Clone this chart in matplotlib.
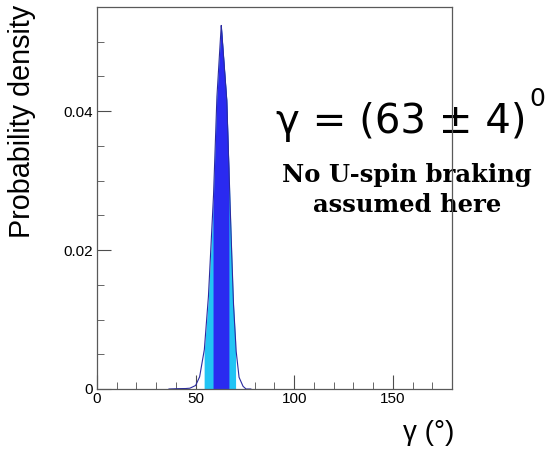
import numpy as np
import matplotlib
matplotlib.use("Agg")
import matplotlib.pyplot as plt

# posterior density for gamma (degrees)
gamma_pts = [36.5, 40, 44, 47, 50, 52, 54.4, 56.4, 59.0, 60.7, 63.0,
             65.8, 67.4, 69.1, 70.5, 72, 74, 75.5, 78]
dens_pts = [0.0, 0.00005, 0.00005, 0.0001, 0.0005, 0.0017, 0.0056, 0.0128,
            0.0272, 0.0416, 0.0524, 0.0416, 0.0272, 0.0128, 0.0056, 0.0017,
            0.0004, 0.0, 0.0]
band_95 = (54.3, 70.3)
band_68 = (58.8, 66.9)
result_text = "γ = (63 ± 4)"

plt.rcParams["font.family"] = ["Liberation Sans", "DejaVu Sans"]
fig = plt.figure(figsize=(5.56, 4.5), dpi=100)
ax = fig.add_axes([0.1745, 0.1356, 0.8129 - 0.1745, 0.9844 - 0.1356])
ax.set_zorder(5)
ax.patch.set_alpha(0)

g = np.array(gamma_pts)
d = np.array(dens_pts)
xf = np.linspace(min(g), max(g), 800)
yf = np.interp(xf, g, d)

m95 = (xf >= band_95[0]) & (xf <= band_95[1])
m68 = (xf >= band_68[0]) & (xf <= band_68[1])
ax.fill_between(xf, 0, yf, where=m95, color="#22c4f4", lw=0, zorder=2)
ax.fill_between(xf, 0, yf, where=m68, color="#2a2af0", lw=0, zorder=3)
ax.plot(xf, yf, color="#2a2aa0", lw=0.8, zorder=4)

ax.set_xlim(0, 180)
ax.set_ylim(0, 0.055)
ax.set_xticks([0, 50, 100, 150])
ax.set_xticks(np.arange(0, 181, 10), minor=True)
ax.set_yticks([0, 0.02, 0.04])
ax.set_yticklabels(["0", "0.02", "0.04"])
ax.set_yticks(np.arange(0, 0.0551, 0.005), minor=True)
ax.tick_params(which="both", direction="in", top=False, right=False,
               labelsize=11, color="0.3")
ax.tick_params(which="major", length=10)
ax.tick_params(which="minor", length=5)
ax.tick_params(axis="x", pad=2)
ax.tick_params(axis="y", pad=3)
for s in ax.spines.values():
    s.set_color("0.35")
    s.set_linewidth(0.9)
    s.set_zorder(10)

fig.text(0.04, 0.99, "Probability density", rotation=90, ha="center",
         va="top", fontsize=20.7)
fig.text(0.818, 0.008, "γ (°)", ha="right", va="bottom", fontsize=20)

fig.text(0.497, 0.705, result_text, fontsize=29, family=["DejaVu Sans"],
         ha="left", va="baseline", zorder=1)
fig.text(0.953, 0.765, "0", fontsize=18, family=["DejaVu Sans"],
         ha="left", va="baseline", zorder=1)
fig.text(0.732, 0.529, "No U-spin braking\nassumed here", fontsize=17.5,
         family=["DejaVu Serif"], fontweight="bold", ha="center",
         va="baseline", linespacing=1.3, zorder=1)

fig.savefig("out.png", dpi=100, facecolor="white")
